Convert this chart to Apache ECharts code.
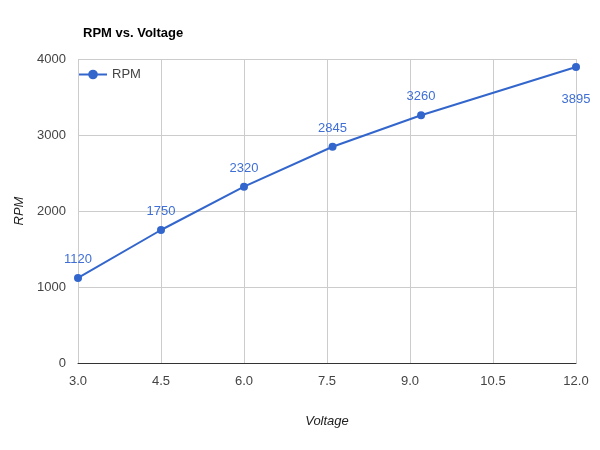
<!DOCTYPE html>
<html><head><meta charset="utf-8">
<script src="https://cdn.jsdelivr.net/npm/echarts@6/dist/echarts.min.js"></script>
<style>html,body{margin:0;padding:0;background:#fff}#c{width:600px;height:450px}</style>
</head><body><div id="c"></div>
<script>
const voltage = [3.0, 4.5, 6.0, 7.6, 9.2, 12.0];
const rpm = [1120, 1750, 2320, 2845, 3260, 3895];
const labelBelow = [false, false, false, false, false, true];

const chart = echarts.init(document.getElementById('c'));
const font = 'Arial, "Liberation Sans", sans-serif';
chart.setOption({
  animation: false,
  textStyle: { fontFamily: font },
  title: {
    text: 'RPM vs. Voltage', left: 78, top: 22,
    textStyle: { fontSize: 13, fontWeight: 'bold', color: '#000', fontFamily: font }
  },
  legend: {
    left: 73, top: 63, itemWidth: 28, itemHeight: 12, itemGap: 5,
    textStyle: { fontSize: 13, color: '#444', fontFamily: font },
    data: ['RPM']
  },
  grid: { left: 78, right: 24, top: 59, bottom: 87 },
  xAxis: {
    type: 'value', min: 3, max: 12, interval: 1.5,
    name: 'Voltage', nameLocation: 'middle', nameGap: 52,
    nameTextStyle: { fontStyle: 'italic', fontSize: 13, color: '#222', fontFamily: font },
    axisLine: { show: true, onZero: false, lineStyle: { color: '#333', width: 1 } },
    axisTick: { show: false },
    axisLabel: { color: '#444', fontSize: 13, margin: 12, formatter: v => v.toFixed(1), fontFamily: font },
    splitLine: { show: true, lineStyle: { color: '#ccc' } }
  },
  yAxis: {
    type: 'value', min: 0, max: 4000, interval: 1000,
    name: 'RPM', nameLocation: 'middle', nameGap: 52, nameRotate: 90,
    nameTextStyle: { fontStyle: 'italic', fontSize: 13, color: '#222', fontFamily: font },
    axisLine: { show: false }, axisTick: { show: false },
    axisLabel: { color: '#444', fontSize: 13, margin: 12, formatter: v => String(v), fontFamily: font },
    splitLine: { show: true, lineStyle: { color: '#ccc' } }
  },
  series: [{
    name: 'RPM', type: 'line',
    data: voltage.map((v, i) => ({
      value: [v, rpm[i]],
      label: labelBelow[i] ? { position: 'bottom', distance: 22 } : { position: 'top' }
    })),
    symbol: 'circle', symbolSize: 8,
    lineStyle: { color: '#3366cc', width: 2 },
    itemStyle: { color: '#3366cc' },
    label: {
      show: true, color: '#3f6fd6', fontSize: 13, distance: 8, fontFamily: font,
      formatter: p => p.value[1]
    }
  }]
});
</script></body></html>
